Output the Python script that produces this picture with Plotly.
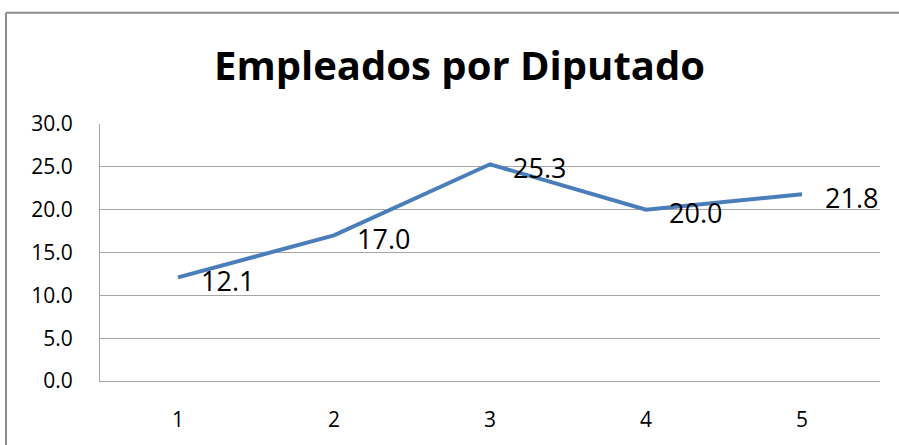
import plotly.graph_objects as go

categories = ["1", "2", "3", "4", "5"]
values = [12.1, 17.0, 25.3, 20.0, 21.8]
labels = ["12.1", "17.0", "25.3", "20.0", "21.8"]
y_ticks = [0, 5, 10, 15, 20, 25, 30]
title = "Empleados por Diputado"

W, H = 899, 445
L, R, T, B = 100, 19, 124, 62
pw = W - L - R
ph = H - T - B
FONT = "Open Sans, Liberation Sans, sans-serif"

fig = go.Figure()
fig.add_trace(go.Scatter(
    x=categories, y=values, mode="lines",
    line=dict(color="#4A7EBB", width=4),
    cliponaxis=False, showlegend=False, hoverinfo="skip",
))

for i, (v, t) in enumerate(zip(values, labels)):
    fig.add_annotation(x=i, y=v, text=t, showarrow=False, xanchor="left", yanchor="middle",
                       xshift=21, yshift=-3,
                       font=dict(family=FONT, size=27, color="#000000"))

# outer chart border (left & top visible)
bx0 = (6 - L) / pw
bx1 = (W + 5 - L) / pw
by_top = (H - B - 12) / ph
by_bot = (H - B - H - 10) / ph
fig.add_shape(type="line", xref="paper", yref="paper", x0=bx0, x1=bx1, y0=by_top, y1=by_top,
              line=dict(color="#8C8C8C", width=2))
fig.add_shape(type="line", xref="paper", yref="paper", x0=bx0, x1=bx0, y0=by_top, y1=by_bot,
              line=dict(color="#8C8C8C", width=2))

fig.update_layout(
    width=W, height=H,
    margin=dict(l=L, r=R, t=T, b=B),
    paper_bgcolor="white", plot_bgcolor="white",
    title=dict(text="<b>" + title + "</b>", x=459.5 / W, xanchor="center",
               y=1 - 66 / H, yanchor="middle",
               font=dict(family=FONT, size=40, color="#000000")),
    xaxis=dict(type="category", showgrid=False, showline=True, linecolor="#A6A6A6", linewidth=1,
               ticks="", tickfont=dict(family=FONT, size=21, color="#000000"),
               ticklabelstandoff=20, range=[-0.5, 4.5]),
    yaxis=dict(range=[0, 30], tickvals=y_ticks, tickformat=".1f", showgrid=True, gridcolor="#A6A6A6",
               gridwidth=1, showline=True, linecolor="#A6A6A6", linewidth=1, zeroline=False, ticks="",
               tickfont=dict(family=FONT, size=21, color="#000000"),
               ticklabelstandoff=22),
)

fig.write_html("out.html", config={"displayModeBar": False},
               post_script="document.body.style.margin='0';document.body.style.overflow='hidden';")
